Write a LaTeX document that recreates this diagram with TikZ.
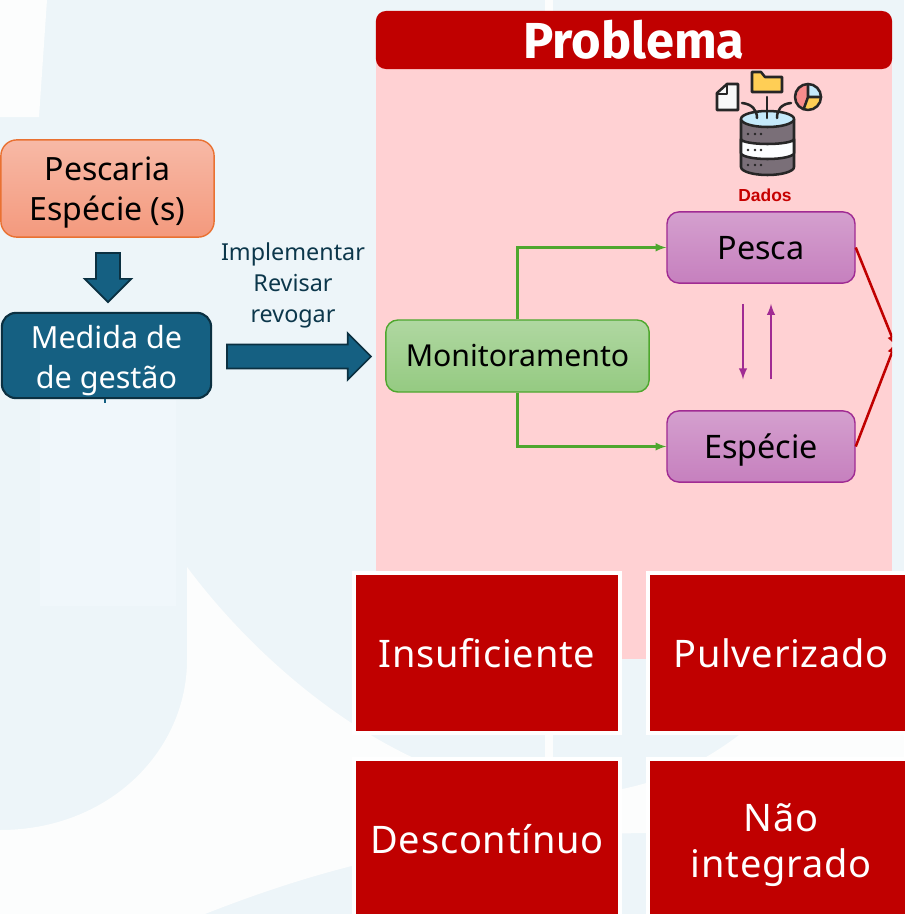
\documentclass[tikz,border=0pt]{standalone}
\usepackage{fontspec}
\setmainfont{Noto Sans}
\newfontfamily\titlefont{Fira Sans}
\newfontfamily\dadosfont{Liberation Sans}
\newfontfamily\boxfont[LetterSpace=2]{Noto Sans}
\usetikzlibrary{shapes.arrows}
\definecolor{fundo}{HTML}{EDF5F9}
\definecolor{fundoclaro}{HTML}{F0F7FB}
\definecolor{branco}{HTML}{FCFDFD}
\definecolor{rosa}{HTML}{FFD1D3}
\definecolor{vermelho}{HTML}{C00000}
\definecolor{azul}{HTML}{156082}
\definecolor{azulesc}{HTML}{0B3041}
\definecolor{verde}{HTML}{4EA72E}
\definecolor{roxo}{HTML}{A02B93}
\definecolor{laranja}{HTML}{E97132}
\definecolor{salmaoa}{HTML}{F7B9A6}
\definecolor{salmaob}{HTML}{F4997D}
\definecolor{cinza}{HTML}{7A6F78}
\definecolor{traco}{HTML}{262626}
\definecolor{ceu}{HTML}{C5EAFB}
\definecolor{amarelo}{HTML}{FFCE55}
\definecolor{salmao}{HTML}{F78C8C}
\tikzset{
  caixa/.style={rectangle,inner sep=0pt,align=center,line width=1pt},
  roxobox/.style={caixa,draw=roxo,top color=roxo!45!white,bottom color=roxo!60!white,rounded corners=0.3cm,minimum width=4.7cm,minimum height=1.78cm,text height=0.58cm,text depth=0cm,font=\fontsize{23}{27}\selectfont},
  bloco/.style={single arrow,draw=azulesc,fill=azul,line width=1.2pt,inner sep=0.28cm,single arrow head indent=0pt,single arrow head extend=0.28cm},
  problema/.style={rectangle,fill=vermelho,draw=white,line width=1mm,text=white,align=center,minimum width=6.65cm,minimum height=4cm,inner sep=0pt,font=\boxfont\fontsize{27}{33}\selectfont},
  icone/.style={draw=traco,line width=1.8pt,line join=round,line cap=round}
}
\begin{document}
\begin{tikzpicture}[x=0.025cm,y=-0.025cm]
  \useasboundingbox (0,0) rectangle (904,914);
  % fundo
  \fill[fundo] (0,0) rectangle (904,914);
  \fill[branco] (0,0) -- (47,0) -- (39,117) -- (0,117) -- cycle;
  \fill[fundoclaro] (40,400) rectangle (176,606);
  \fill[branco] (545,0) rectangle (553,914);
  \fill[branco] (187,567) .. controls (260,665) and (400,790) .. (560,795)
    .. controls (620,795) and (680,780) .. (739,735) -- (904,620) -- (904,800)
    .. controls (800,820) and (700,830) .. (646,833)
    .. controls (500,835) and (380,845) .. (205,914) -- (0,914) -- (0,830)
    .. controls (110,830) and (187,750) .. (187,660) -- cycle;
  % painel
  \fill[rosa] (376,60) rectangle (892,659);
  \node[rectangle,fill=vermelho,rounded corners=0.25cm,minimum width=12.9cm,minimum height=1.45cm,inner sep=0pt,text=white,font=\titlefont\bfseries\fontsize{36}{38}\selectfont] at (634,40) (titulo) {Problema};
  % esquerda
  \node[caixa,draw=laranja,top color=salmaoa,bottom color=salmaob,rounded corners=0.4cm,minimum width=5.33cm,minimum height=2.43cm,font=\fontsize{22.8}{28.5}\selectfont] at (107.5,188.5) (pescaria) {\rule{0pt}{0.78cm}Pescaria\\Espécie (s)};
  \node[caixa,draw=azulesc,line width=1.5pt,fill=azul,text=white,rounded corners=0.35cm,minimum width=5.23cm,minimum height=2.13cm,font=\fontsize{21.7}{28}\selectfont] at (106.5,355.5) (medida) {\rule{0pt}{0.84cm}Medida de\\de gestão};
  \draw[azul,line width=1.4pt] (medida.south -| 105,398) -- (105,403);
  \node[bloco,shape border rotate=270,minimum height=1.23cm] at (108,271.5) (setabaixo) {};
  \node[bloco,minimum height=3.6cm] at (293,356.5) (setadireita) {};
  \node[text=azulesc!85!azul,align=center,font=\fontsize{16.6}{22}\selectfont] at (293,285) (acoes) {Implementar\\Revisar\\revogar};
  % monitoramento
  \node[caixa,draw=verde,top color=verde!45!white,bottom color=verde!60!white,rounded corners=0.3cm,minimum width=6.58cm,minimum height=1.8cm,font=\fontsize{21.5}{26}\selectfont] at (517.5,356) (monit) {Monitoramento};
  \node[roxobox] at (761,247.5) (pesca) {Pesca};
  \node[roxobox] at (761,446.5) (especie) {Espécie};
  \draw[-latex,verde,line width=1.6pt] (monit.north) |- (pesca.west);
  \draw[-latex,verde,line width=1.6pt] (monit.south) |- (especie.west);
  \draw[-latex,roxo,line width=1.7pt] ([xshift=-0.45cm,yshift=-0.5cm]pesca.south) -- ([xshift=-0.45cm,yshift=0.77cm]especie.north);
  \draw[-latex,roxo,line width=1.7pt] ([xshift=0.25cm,yshift=0.77cm]especie.north) -- ([xshift=0.25cm,yshift=-0.5cm]pesca.south);
  \begin{scope}
    \clip (376,60) rectangle (892,659);
    \coordinate (alvoa) at (896,347);
    \coordinate (alvob) at (896,342);
    \draw[-latex,vermelho,line width=1.8pt] (pesca.east) -- (alvoa);
    \draw[-latex,vermelho,line width=1.8pt] (especie.east) -- (alvob);
  \end{scope}
  % icone dados
  \draw[icone,fill=cinza] (741,119) -- (741,167) arc[start angle=180,end angle=0,x radius=26.5,y radius=8] -- (794,119) -- cycle;
  \draw[icone,fill=white!95!ceu] (741,139) arc[start angle=180,end angle=0,x radius=26.5,y radius=5] -- (794,153) arc[start angle=0,end angle=180,x radius=26.5,y radius=6] -- cycle;
  \draw[icone,fill=ceu] (767.5,119) ellipse[x radius=26.5,y radius=8];
  \foreach \y in {134,150,165} \foreach \x in {748,755,761}
    \fill[traco] (\x,\y) circle[radius=1.4];
  \draw[icone] (767,97) -- (767,118);
  \draw[icone] (742,103) .. controls (752,104) and (757,110) .. (757,118);
  \draw[icone] (791,103) .. controls (781,104) and (777,110) .. (777,118);
  \draw[icone,fill=amarelo] (752,92) -- (752,72) -- (761,72) -- (765,77) -- (782,77) -- (782,92) -- cycle;
  \draw[icone,fill=white!95!cinza] (717,110) -- (717,93) -- (727,84) -- (738,84) -- (738,110) -- cycle;
  \draw[icone] (717,94) -- (727,94) -- (727,84);
  \fill[salmao] (808,97) -- (803.6,109.2) arc[start angle=110,end angle=270,radius=13] -- cycle;
  \fill[ceu] (808,97) -- (808,84) arc[start angle=-90,end angle=0,radius=13] -- cycle;
  \fill[amarelo] (808,97) -- (821,97) arc[start angle=0,end angle=110,radius=13] -- cycle;
  \draw[icone] (808,97) circle[radius=13];
  \draw[icone] (808,84) -- (808,97) -- (821,97) (808,97) -- (803.6,109.2);
  \node[text=vermelho!90!red,font=\dadosfont\bfseries\fontsize{12.4}{14}\selectfont] at (765,195) (dados) {Dados};
  % caixas
  \node[problema] at (487,653) (insuf) {Insuficiente};
  \node[problema] at (781,653) (pulv) {Pulverizado};
  \node[problema] at (487,839) (desc) {Descontínuo};
  \node[problema] at (781,839) (naoint) {\rule{0pt}{1cm}Não\\integrado};
\end{tikzpicture}
\end{document}
